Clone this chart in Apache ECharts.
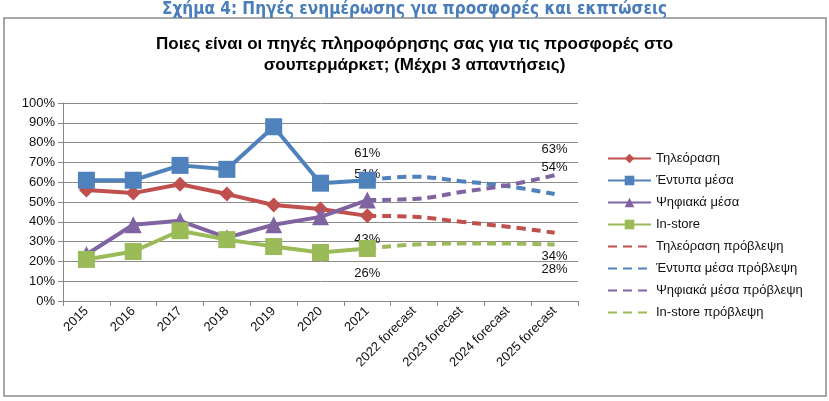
<!DOCTYPE html>
<html><head><meta charset="utf-8">
<script src="https://cdn.jsdelivr.net/npm/echarts@6/dist/echarts.min.js"></script>
<style>html,body{margin:0;padding:0;background:#fff}#c{width:829px;height:401px}</style>
</head><body><div id="c"></div>
<script>
var categories = ['2015','2016','2017','2018','2019','2020','2021','2022 forecast','2023 forecast','2024 forecast','2025 forecast'];
var tvActual      = [56, 54.5, 59, 54, 48.5, 46.5, 43, null, null, null, null];
var printActual   = [61, 61, 68.5, 66.5, 88, 59.5, 61, null, null, null, null];
var digitalActual = [23.5, 38.5, 40.5, 32, 38.5, 42.5, 51, null, null, null, null];
var storeActual   = [21, 25, 35.5, 31, 27.5, 24.5, 26.5, null, null, null, null];
var tvForecast      = [null, null, null, null, null, null, 43, 42.5, 40, 37.5, 34.5];
var printForecast   = [null, null, null, null, null, null, 61, 62.8, 60.5, 58, 54];
var digitalForecast = [null, null, null, null, null, null, 51, 51.5, 55, 58.5, 63.5];
var storeForecast   = [null, null, null, null, null, null, 26.5, 28.5, 29, 29, 28.5];
var labelIdx = [6, 10];
var tvLabels      = ['43%', '34%'];
var printLabels   = ['61%', '54%'];
var digitalLabels = ['51%', '63%'];
var storeLabels   = ['26%', '28%'];
var yTicks = [0,10,20,30,40,50,60,70,80,90,100];
var legendNames = ['Τηλεόραση','Έντυπα μέσα','Ψηφιακά μέσα','In-store','Τηλεόραση πρόβλεψη','Έντυπα μέσα πρόβλεψη','Ψηφιακά μέσα πρόβλεψη','In-store πρόβλεψη'];

var RED='#C0504D', BLUE='#4F81BD', PURPLE='#8064A2', GREEN='#9BBB59';
var FONT = '"Liberation Sans", Arial, sans-serif';

function withLabels(vals, texts, dy){
  return vals.map(function(v,i){
    var k = labelIdx.indexOf(i);
    if (k < 0 || v == null) return v;
    return {value: v, label: {show: true, formatter: texts[k], position: 'inside', offset: [0, dy],
      color: '#111', fontSize: 13, fontFamily: FONT}};
  });
}

function solid(name, data, color, symbol, size){
  return {name: name, type: 'line', data: data, symbol: symbol, symbolSize: size,
    lineStyle: {color: color, width: 4}, itemStyle: {color: color}, z: 3};
}
function dashed(name, data, color){
  return {name: name, type: 'line', data: data, smooth: 0.4, symbol: 'circle', symbolSize: 0,
    showSymbol: true, lineStyle: {color: color, width: 4, type: [9, 6]}, itemStyle: {color: color}, z: 2};
}

var chart = echarts.init(document.getElementById('c'), null, {renderer: 'canvas'});
chart.setOption({
  animation: false,
  backgroundColor: '#fff',
  graphic: [
    {type: 'rect', shape: {x: 4, y: 18, width: 822, height: 378}, style: {fill: 'none', stroke: '#8a8a8a', lineWidth: 1.5}, z: -1},
    {type: 'text', left: 'center', top: 1, style: {text: 'Σχήμα 4: Πηγές ενημέρωσης για προσφορές και εκπτώσεις',
      fill: '#4A7EBB', font: 'bold 17px "DejaVu Sans Condensed", "Liberation Sans", Arial, sans-serif'}},
    {type: 'text', left: 'center', top: 36, style: {text: 'Ποιες είναι οι πηγές πληροφόρησης σας για τις προσφορές στο',
      fill: '#000', font: 'bold 17px ' + FONT}},
    {type: 'text', left: 'center', top: 57, style: {text: 'σουπερμάρκετ; (Μέχρι 3 απαντήσεις)',
      fill: '#000', font: 'bold 17px ' + FONT}}
  ],
  grid: {left: 63, right: 251, top: 103, bottom: 100, containLabel: false},
  legend: {
    orient: 'vertical', left: 602, top: 147, itemWidth: 43, itemHeight: 12, itemGap: 9,
    textStyle: {color: '#111', fontSize: 13, fontFamily: FONT},
    data: legendNames.map(function(n, i){ return i < 4 ? n : {name: n, itemStyle: {opacity: 0}}; })
  },
  xAxis: {
    type: 'category', data: categories, boundaryGap: true,
    axisLine: {lineStyle: {color: '#888', width: 1}},
    axisTick: {show: true, length: 5, lineStyle: {color: '#888'}},
    axisLabel: {rotate: 45, color: '#111', fontSize: 13, margin: 8, interval: 0, fontFamily: FONT}
  },
  yAxis: {
    type: 'value', min: 0, max: 100, interval: 10,
    axisLine: {show: true, lineStyle: {color: '#888', width: 1}},
    axisTick: {show: true, length: 5, lineStyle: {color: '#888'}},
    splitLine: {show: true, lineStyle: {color: '#8c8c8c', width: 1}},
    axisLabel: {color: '#111', fontSize: 13, margin: 8, fontFamily: FONT,
      formatter: function(v){ return yTicks.indexOf(v) >= 0 ? v + '%' : ''; }}
  },
  series: [
    solid('Τηλεόραση', tvActual, RED, 'diamond', 15),
    solid('Έντυπα μέσα', printActual, BLUE, 'rect', 17),
    solid('Ψηφιακά μέσα', digitalActual, PURPLE, 'triangle', 17),
    solid('In-store', storeActual, GREEN, 'rect', 17),
    dashed('Τηλεόραση πρόβλεψη', withLabels(tvForecast, tvLabels, 24), RED),
    dashed('Έντυπα μέσα πρόβλεψη', withLabels(printForecast, printLabels, -27), BLUE),
    dashed('Ψηφιακά μέσα πρόβλεψη', withLabels(digitalForecast, digitalLabels, -26), PURPLE),
    dashed('In-store πρόβλεψη', withLabels(storeForecast, storeLabels, 25), GREEN)
  ]
});
</script></body></html>
